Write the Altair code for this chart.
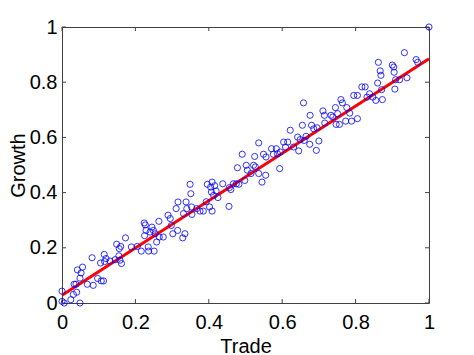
import altair as alt
import pandas as pd

# Scatter data
trade = [0.0, 0.0, 0.006, 0.024, 0.031, 0.033, 0.038, 0.040, 0.042, 0.049,
         0.049, 0.052, 0.056, 0.069, 0.082, 0.085, 0.097, 0.105, 0.107, 0.113,
         0.115, 0.120, 0.116, 0.131, 0.145, 0.149, 0.155, 0.156, 0.160, 0.162,
         0.158, 0.173, 0.189, 0.205, 0.216, 0.224, 0.227, 0.229, 0.225, 0.235,
         0.236, 0.240, 0.245, 0.249, 0.251, 0.254, 0.258, 0.264, 0.265, 0.276,
         0.289, 0.295, 0.298, 0.302, 0.315, 0.311, 0.316, 0.329, 0.335, 0.331,
         0.338, 0.340, 0.349, 0.351, 0.353, 0.354, 0.367, 0.376, 0.385, 0.393,
         0.396, 0.402, 0.405, 0.409, 0.407, 0.409, 0.413, 0.416, 0.420, 0.425,
         0.438, 0.455, 0.456, 0.460, 0.467, 0.475, 0.478, 0.482, 0.491, 0.498,
         0.502, 0.505, 0.515, 0.522, 0.525, 0.527, 0.536, 0.536, 0.545, 0.549,
         0.555, 0.556, 0.571, 0.576, 0.584, 0.587, 0.593, 0.595, 0.604, 0.609,
         0.615, 0.622, 0.631, 0.642, 0.645, 0.649, 0.655, 0.658, 0.660, 0.665,
         0.675, 0.676, 0.680, 0.686, 0.693, 0.695, 0.700, 0.711, 0.715, 0.716,
         0.733, 0.738, 0.745, 0.747, 0.751, 0.756, 0.760, 0.764, 0.773, 0.776,
         0.784, 0.789, 0.795, 0.805, 0.805, 0.817, 0.826, 0.831, 0.838, 0.847,
         0.855, 0.860, 0.862, 0.867, 0.869, 0.871, 0.873, 0.900, 0.904, 0.905,
         0.907, 0.909, 0.920, 0.933, 0.940, 0.965, 0.969, 1.0]
growth = [0.043, 0.006, 0.000, 0.012, 0.031, 0.068, 0.068, 0.039, 0.120, 0.000,
          0.090, 0.109, 0.130, 0.068, 0.164, 0.064, 0.089, 0.145, 0.080, 0.080,
          0.176, 0.161, 0.150, 0.152, 0.157, 0.213, 0.171, 0.197, 0.205, 0.143,
          0.155, 0.236, 0.203, 0.205, 0.188, 0.290, 0.283, 0.263, 0.244, 0.203,
          0.188, 0.257, 0.275, 0.263, 0.188, 0.251, 0.221, 0.296, 0.239, 0.239,
          0.318, 0.306, 0.281, 0.251, 0.263, 0.342, 0.366, 0.236, 0.251, 0.324,
          0.366, 0.342, 0.430, 0.396, 0.348, 0.321, 0.342, 0.333, 0.333, 0.367,
          0.430, 0.348, 0.420, 0.438, 0.402, 0.333, 0.390, 0.425, 0.406, 0.382,
          0.432, 0.350, 0.418, 0.411, 0.432, 0.432, 0.490, 0.430, 0.539, 0.444,
          0.499, 0.481, 0.469, 0.499, 0.531, 0.493, 0.580, 0.469, 0.438, 0.539,
          0.463, 0.529, 0.559, 0.539, 0.559, 0.541, 0.487, 0.547, 0.583, 0.565,
          0.583, 0.626, 0.565, 0.601, 0.551, 0.592, 0.644, 0.725, 0.589, 0.604,
          0.575, 0.680, 0.644, 0.631, 0.553, 0.635, 0.587, 0.696, 0.680, 0.652,
          0.680, 0.674, 0.708, 0.647, 0.686, 0.647, 0.737, 0.725, 0.659, 0.708,
          0.688, 0.659, 0.752, 0.668, 0.752, 0.783, 0.783, 0.746, 0.758, 0.746,
          0.734, 0.797, 0.872, 0.841, 0.825, 0.773, 0.737, 0.862, 0.855, 0.836,
          0.775, 0.809, 0.809, 0.907, 0.816, 0.882, 0.872, 1.0]

# Fitted line end points
fit_x = [0.0, 1.0]
fit_y = [0.028, 0.885]

tick_values = [0, 0.2, 0.4, 0.6, 0.8, 1]

W, H = 367, 276

pts = pd.DataFrame({"Trade": trade, "Growth": growth})
fit = pd.DataFrame({"Trade": fit_x, "Growth": fit_y})
tk = pd.DataFrame({"Trade": tick_values, "Growth": tick_values})

FONT = "Liberation Sans"
xs = alt.Scale(domain=[0, 1], nice=False, zero=False)
ys = alt.Scale(domain=[0, 1], nice=False, zero=False)

xaxis = alt.Axis(values=tick_values, format="~g", ticks=False, domain=False, grid=False,
                 labelFontSize=20, labelPadding=9, labelColor="black", labelFont=FONT,
                 title="Trade", titleFont=FONT, titleFontSize=20, titleFontWeight="normal",
                 titleColor="black", titleY=49, titleBaseline="alphabetic",
                 labelFlush=False)
yaxis = alt.Axis(values=tick_values, format="~g", ticks=False, domain=False, grid=False,
                 labelFontSize=20, labelPadding=5, labelColor="black", labelFont=FONT,
                 title="Growth", titleFont=FONT, titleFontSize=20, titleFontWeight="normal",
                 titleColor="black", titleX=-44, titleY=H / 2, titleBaseline="middle",
                 labelFlush=False)

X = alt.X("Trade:Q", scale=xs, axis=xaxis)
Y = alt.Y("Growth:Q", scale=ys, axis=yaxis)

points = alt.Chart(pts).mark_point(shape="circle", filled=False, color="#0000ff",
                                   size=38, strokeWidth=0.8, opacity=1).encode(x=X, y=Y)
line = alt.Chart(fit).mark_line(color="#ff0000", strokeWidth=3).encode(x=X, y=Y)

tick_col = "#404040"
bt = alt.Chart(tk).mark_rule(color=tick_col, strokeWidth=1).encode(
    x=X, y=alt.value(H), y2=alt.value(H - 4))
tt = alt.Chart(tk).mark_rule(color=tick_col, strokeWidth=1).encode(
    x=X, y=alt.value(0), y2=alt.value(4))
lt = alt.Chart(tk).mark_rule(color=tick_col, strokeWidth=1).encode(
    y=Y, x=alt.value(0), x2=alt.value(4))
rt = alt.Chart(tk).mark_rule(color=tick_col, strokeWidth=1).encode(
    y=Y, x=alt.value(W), x2=alt.value(W - 4))

chart = alt.layer(bt, tt, lt, rt, line, points).properties(
    width=W, height=H,
    autosize=alt.AutoSizeParams(type="none"),
    padding={"left": 54, "top": 19, "right": 37, "bottom": 56},
).configure_view(stroke="#404040", strokeWidth=1)

chart.save("out.html", embed_options={"renderer": "svg", "actions": False})
